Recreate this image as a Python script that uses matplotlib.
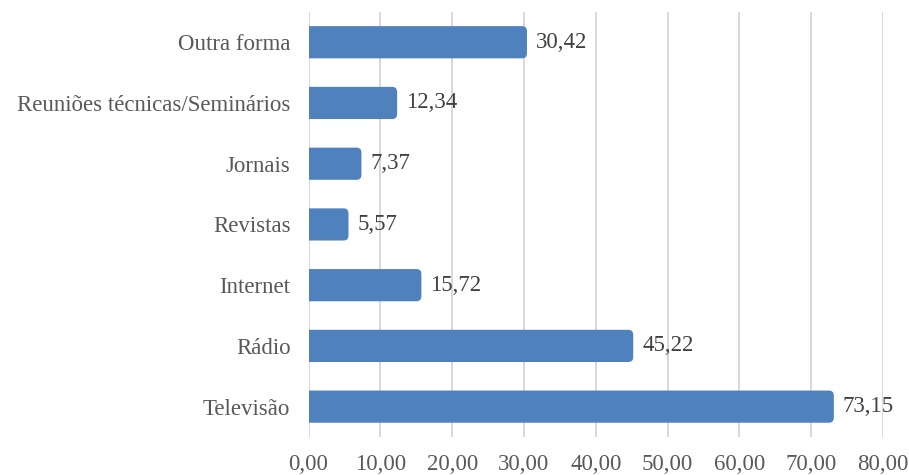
import matplotlib
matplotlib.use("Agg")
import matplotlib.pyplot as plt
from matplotlib.patches import FancyBboxPatch

categories = ["Televisão", "Rádio", "Internet", "Revistas", "Jornais",
              "Reuniões técnicas/Seminários", "Outra forma"]
values = [73.15, 45.22, 15.72, 5.57, 7.37, 12.34, 30.42]
x_ticks = [0, 10, 20, 30, 40, 50, 60, 70, 80]

BAR_COLOR = "#4F81BD"
TEXT_COLOR = "#595959"
GRID_COLOR = "#D9D9D9"
FONT = ["Liberation Serif", "DejaVu Serif"]
FS = 16.5

fig = plt.figure(figsize=(9.09, 4.75), dpi=100)
ax = fig.add_axes([0.3394, 0.080, 0.632, 0.895])

ax.set_xlim(x_ticks[0], x_ticks[-1])
ax.set_ylim(-0.5, len(categories) - 0.5)

# bar geometry in data units, rounded on the right end only
bar_h = 0.53
fig.canvas.draw()
bbox = ax.get_window_extent()
ux = (x_ticks[-1] - x_ticks[0]) / bbox.width      # data units per pixel (x)
uy = len(categories) / bbox.height                # data units per pixel (y)
radius = 5 * ux
aspect = uy / ux

for i, v in enumerate(values):
    patch = FancyBboxPatch((-radius * 2, i - bar_h / 2), v + radius * 2, bar_h,
                           boxstyle=f"round,pad=0,rounding_size={radius}",
                           mutation_aspect=aspect,
                           facecolor=BAR_COLOR, edgecolor="none", zorder=3)
    ax.add_patch(patch)
    ax.text(v + 9 * ux, i, f"{v:.2f}".replace(".", ","), va="center", ha="left",
            fontsize=FS, family=FONT, color="#404040")

ax.set_xticks(x_ticks)
ax.set_xticklabels([f"{t:.2f}".replace(".", ",") for t in x_ticks],
                   family=FONT, fontsize=FS, color=TEXT_COLOR)
ax.set_yticks(range(len(categories)))
ax.set_yticklabels(categories, family=FONT, fontsize=FS, color=TEXT_COLOR)
ax.tick_params(axis="both", length=0)
ax.tick_params(axis="x", pad=12)
ax.tick_params(axis="y", pad=13)

ax.grid(axis="x", color=GRID_COLOR, linewidth=1.5, zorder=0)
ax.set_axisbelow(True)
for s in ax.spines.values():
    s.set_visible(False)

fig.savefig("out.png", dpi=100)
